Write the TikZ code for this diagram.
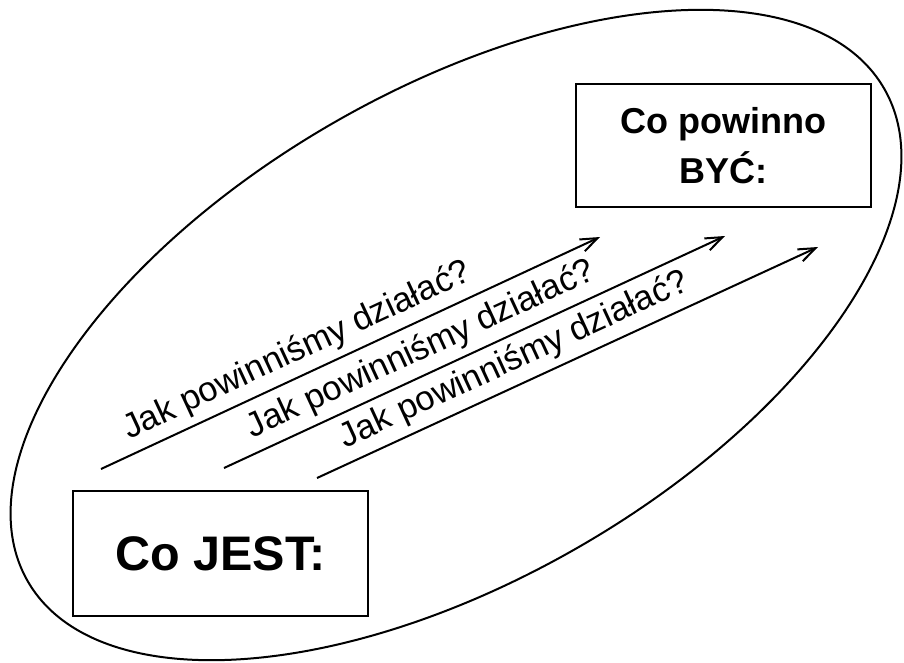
\documentclass[tikz,border=0pt]{standalone}
\usepackage{fontspec}
\setmainfont{Liberation Sans}
\usetikzlibrary{arrows.meta}

\tikzset{
  stateframe/.style={draw, line width=2.2pt, inner sep=0pt, align=center, font=\bfseries},
  wayarrow/.style={line width=2pt, -{Straight Barb[length=17pt, width=13pt, line width=2pt]}},
  waylabel/.style={sloped, pos=0.414, above=14pt, inner sep=0pt, text depth=0pt, font=\fontsize{34.5}{40}\selectfont}
}

\begin{document}
\begin{tikzpicture}[x=1pt, y=-1pt]
  \useasboundingbox[fill=white] (0,0) rectangle (904,662);

  % surrounding field
  \draw[line width=2pt, rotate around={29.9:(456,335)}] (456,335) ellipse [x radius=494, y radius=245];

  % target state and current state
  \node[stateframe, minimum width=295pt, minimum height=123pt, font=\bfseries\fontsize{36}{50}\selectfont]
    (target) at (723.5,145.5) {Co powinno\\BYĆ:};
  \node[stateframe, minimum width=295pt, minimum height=125pt, font=\bfseries\fontsize{48.5}{52}\selectfont]
    (current) at (220.5,553.5) {Co JEST:};

  % ends of the three paths
  \coordinate (s1) at (101,469);
  \coordinate (e1) at (600,237);
  \coordinate (s2) at (224,468);
  \coordinate (e2) at (725,236);
  \coordinate (s3) at (317,478);
  \coordinate (e3) at (818,247);

  \draw[wayarrow] (s1) -- (e1) node[waylabel] (l1) {Jak powinniśmy działać?};
  \draw[wayarrow] (s2) -- (e2) node[waylabel] (l2) {Jak powinniśmy działać?};
  \draw[wayarrow] (s3) -- (e3) node[waylabel] (l3) {Jak powinniśmy działać?};
\end{tikzpicture}
\end{document}
